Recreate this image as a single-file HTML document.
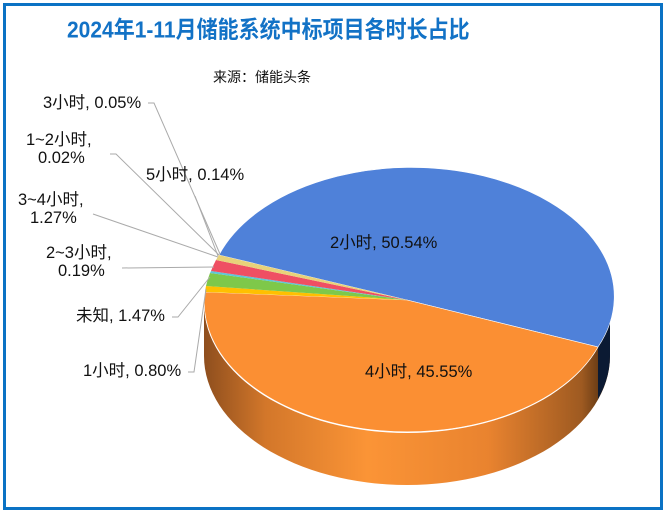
<!DOCTYPE html>
<html><head><meta charset="utf-8"><style>
html,body{margin:0;padding:0;background:#fff;}
body{width:664px;height:510px;position:relative;overflow:hidden;font-family:"Liberation Sans","Noto Sans CJK SC",sans-serif;}
.frame{position:absolute;left:3px;top:3px;width:654px;height:501px;border:3px solid #0a72c4;}
.t{position:absolute;white-space:nowrap;color:#111;font-size:16.5px;line-height:19px;}
</style></head><body>
<div class="frame"></div>
<div class="t" style="left:67px;top:16px;font-size:21px;line-height:30px;font-weight:bold;color:#1272c6;transform:scaleY(1.12);transform-origin:left center;">2024年1-11月储能系统中标项目各时长占比</div>
<div class="t" style="left:213px;top:68px;font-size:14px;">来源：储能头条</div>
<svg width="664" height="510" style="position:absolute;left:0;top:0">
<defs>
<linearGradient id="og" x1="205" x2="610" y1="0" y2="0" gradientUnits="userSpaceOnUse">
<stop offset="0" stop-color="#8f4f1e"/><stop offset="0.15" stop-color="#d3772a"/><stop offset="0.4" stop-color="#fb9436"/><stop offset="0.7" stop-color="#e9832f"/><stop offset="0.93" stop-color="#9e5a21"/><stop offset="1" stop-color="#4a2a0e"/>
</linearGradient>
</defs>
<path d="M204,304 L204,356 A203,129 0 0 0 610,356 L610,304 A203,129 0 0 1 204,304 Z" fill="url(#og)"/>
<path d="M598,347 L598,399 A203,129 0 0 0 610,356 L610,304 A203,129 0 0 1 598,347 Z" fill="#0b1a33"/>
<path d="M407,300 L219,255 A203,129 0 1 1 598,347 Z" fill="#4f81d9" stroke="#fff" stroke-width="0.6"/>
<path d="M407,300 L598,347 A203,129 0 0 1 205,292 Z" fill="#fb8f33" stroke="#fff" stroke-width="0.6"/>
<path d="M407,300 L205,292 A203,129 0 0 1 206,286 Z" fill="#ffc000"/>
<path d="M407,300 L206,286 A203,129 0 0 1 210,273 Z" fill="#7ec84a"/>
<path d="M407,300 L210,273 A203,129 0 0 1 211,271 Z" fill="#5bc8d8"/>
<path d="M407,300 L211,271 A203,129 0 0 1 216,260 Z" fill="#ef4f63"/>
<path d="M407,300 L216,260 A203,129 0 0 1 219,255 Z" fill="#e8d27a"/>
<g stroke="#aaa" stroke-width="1" fill="none">
<polyline points="148,103 154,103 220,254"/>
<polyline points="110,154 116,154 219,255"/>
<polyline points="195,196 218,256"/>
<polyline points="93,214 218,257"/>
<polyline points="122,268 214,267"/>
<polyline points="172,317 178,317 210,277"/>
<polyline points="188,372 194,372 206,289"/>
</g>
</svg>
<div class="t" style="left:43px;top:94px;">3小时, 0.05%</div>
<div class="t" style="left:26px;top:131px;">1~2小时,</div>
<div class="t" style="left:38px;top:149px;">0.02%</div>
<div class="t" style="left:146px;top:166px;">5小时, 0.14%</div>
<div class="t" style="left:18px;top:191px;">3~4小时,</div>
<div class="t" style="left:30px;top:209px;">1.27%</div>
<div class="t" style="left:46px;top:244px;">2~3小时,</div>
<div class="t" style="left:58px;top:262px;">0.19%</div>
<div class="t" style="left:76px;top:307px;">未知, 1.47%</div>
<div class="t" style="left:83px;top:362px;">1小时, 0.80%</div>
<div class="t" style="left:330px;top:234px;">2小时, 50.54%</div>
<div class="t" style="left:365px;top:363px;">4小时, 45.55%</div>
</body></html>
